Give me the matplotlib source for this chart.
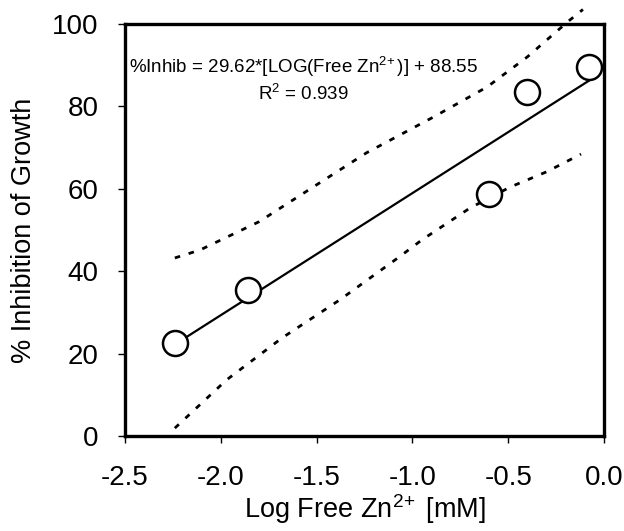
import matplotlib

matplotlib.use("Agg")
import matplotlib.pyplot as plt
import numpy as np

plt.rcParams["font.family"] = ["Liberation Sans", "DejaVu Sans"]
plt.rcParams["mathtext.fontset"] = "custom"
plt.rcParams["mathtext.rm"] = "Liberation Sans"
plt.rcParams["mathtext.it"] = "Liberation Sans"

# Measured data
log_zn = [-2.24, -1.86, -0.60, -0.40, -0.08]
inhibition = [22.5, 35.5, 58.8, 83.5, 89.6]

# Regression fit (from the chart's equation)
slope = 29.62
intercept = 88.55

# 95% confidence bands
upper_x = [-2.24, -2.11, -1.80, -1.24, -0.89, -0.61, -0.40, -0.19, -0.11]
upper_y = [43.2, 45.1, 52.0, 68.7, 77.4, 84.7, 92.0, 100.5, 103.5]
lower_x = [-2.24, -1.97, -1.68, -1.38, -1.07, -0.95, -0.70, -0.49, -0.30, -0.12]
lower_y = [1.9, 13.6, 23.8, 33.0, 43.4, 47.6, 55.3, 60.4, 64.1, 68.4]

fig = plt.figure(figsize=(6.24, 5.31), dpi=100)
ax = fig.add_axes([0.2003, 0.179, 0.7677, 0.776])

fit_x = np.array([min(log_zn), max(log_zn)])
ax.plot(fit_x, slope * fit_x + intercept, color="black", lw=1.6, zorder=2)

ax.plot(upper_x, upper_y, color="black", lw=2, ls=(0, (2, 3.2)), clip_on=False, zorder=2)
ax.plot(lower_x, lower_y, color="black", lw=2, ls=(0, (2, 3.2)), clip_on=False, zorder=2)

ax.plot(log_zn, inhibition, "o", ms=18, mfc="white", mec="black", mew=1.8,
        clip_on=False, zorder=3)

ax.text(-1.57, 89.5, r"%Inhib = 29.62*[LOG(Free Zn$^{2\!+}$)] + 88.55",
        ha="center", va="center", fontsize=13.5)
ax.text(-1.57, 83.0, r"R$^{2}$ = 0.939", ha="center", va="center", fontsize=13.5)

ax.set_xlim(-2.5, 0.0)
ax.set_ylim(0, 100)
ax.set_xticks(np.arange(-2.5, 0.01, 0.5))
ax.set_xticklabels(["-2.5", "-2.0", "-1.5", "-1.0", "-0.5", "0.0"])
ax.set_yticks(range(0, 101, 20))

for s in ax.spines.values():
    s.set_linewidth(2.4)
ax.tick_params(direction="out", length=5, width=1, labelsize=20)
ax.tick_params(axis="x", pad=16)
ax.tick_params(axis="y", pad=14)

ax.set_xlabel(r"Log Free Zn$^{2\!+}$ [mM]", fontsize=19.5, labelpad=1)
ax.set_ylabel("% Inhibition of Growth", fontsize=19.5, labelpad=11)

fig.savefig("out.png", dpi=100)
